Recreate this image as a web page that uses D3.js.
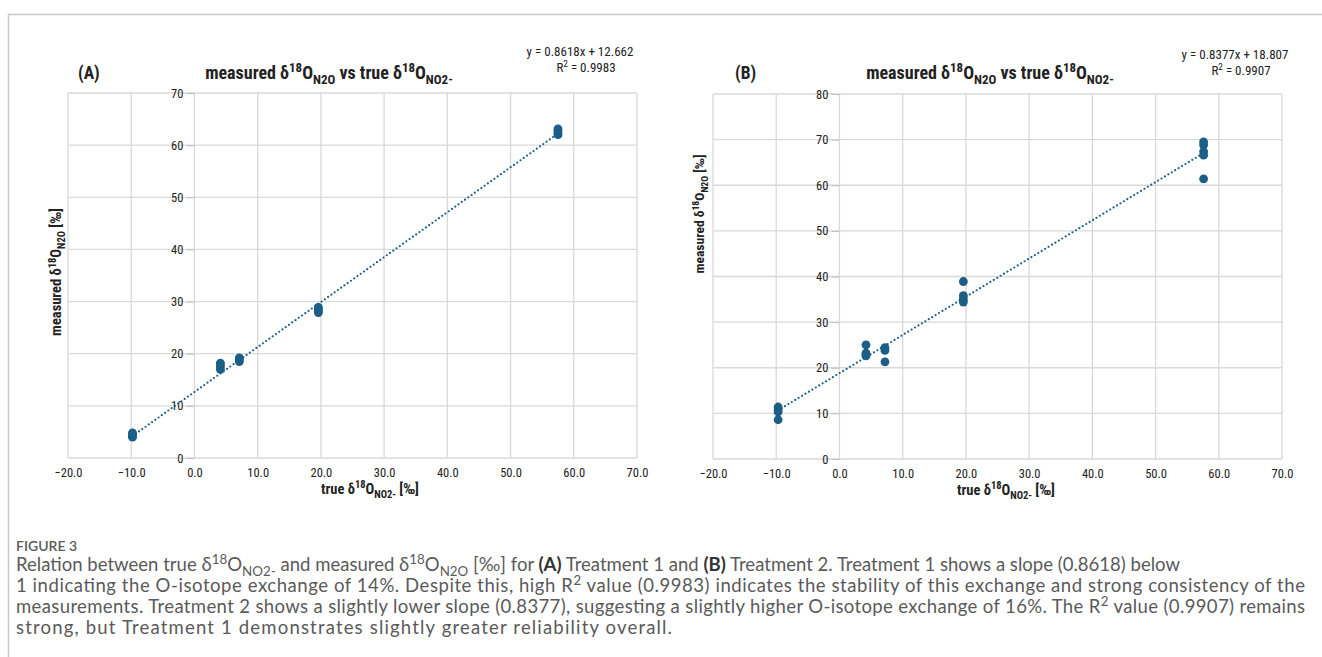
<!DOCTYPE html>
<html>
<head>
<meta charset="utf-8">
<script src="https://cdn.jsdelivr.net/npm/d3@7"></script>
<style>
body{margin:0;background:#fff}
svg{display:block}
.chart text{font-family:"Liberation Sans Narrow","Roboto Condensed",Roboto,sans-serif;fill:#222}
.cap text{font-family:Lato,"Open Sans",sans-serif;fill:#5a5a5a}
</style>
</head>
<body>
<div id="fig"></div>
<script>
'use strict'
// x tick values shared by both panels
const xTicks=[-20,-10,0,10,20,30,40,50,60,70]
const aYTicks=[0,10,20,30,40,50,60,70]
const bYTicks=[0,10,20,30,40,50,60,70,80]

// panel A, treatment 1
const aTrue=[-9.8,-9.8,-9.8,-9.8,4.1,4.1,4.1,4.1,7.1,7.1,7.1,19.6,19.6,19.6,19.6,57.5,57.5,57.5,57.5]
const aMeasured=[4.0,4.3,4.6,4.8,17.0,17.5,18.0,18.2,18.5,18.9,19.2,27.9,28.2,28.6,28.9,62.0,62.4,62.8,63.1]
const aFit={slope:0.8618,intercept:12.662,r2:'0.9983'}

// panel B, treatment 2
const bTrue=[-9.7,-9.7,-9.7,-9.7,4.2,4.2,4.2,4.2,7.2,7.2,7.2,19.6,19.6,19.6,19.6,57.6,57.6,57.6,57.6,57.6]
const bMeasured=[11.4,10.8,10.3,8.6,25.0,23.2,22.9,22.6,24.4,23.8,21.3,38.9,35.8,35.0,34.4,69.5,68.8,67.4,66.6,61.4]
const bFit={slope:0.8377,intercept:18.807,r2:'0.9907'}

const dotColor="#1b5e86"
const gridColor="#d9d9d9"
const W=1322,H=657

let svg=d3.select("#fig").append("svg").attr("width",W).attr("height",H)

// figure frame (top and left rule)
svg.append("line").attr("x1",8).attr("x2",W).attr("y1",14.5).attr("y2",14.5).attr("stroke","#c8c8c8").attr("stroke-width",1.5)
svg.append("line").attr("x1",8.5).attr("x2",8.5).attr("y1",14).attr("y2",H).attr("stroke","#c8c8c8").attr("stroke-width",1.5)

// writes text made of plain / sup / sub / bold parts
function rich(t,parts,size){let shift=0
parts.forEach(function(p){let s=p[1]=='sup'?-size*0.38:p[1]=='sub'?size*0.28:0
let ts=t.append("tspan").attr("dy",s-shift).attr("font-size",(p[1]=='sup'||p[1]=='sub')?size*0.72:size).text(p[0])
if(p[1]=='b')ts.attr("font-weight","bold").attr("fill","#333")
shift=s})
return t}

const yTitle=[["measured δ",""],["18","sup"],["O",""],["N2O","sub"],[" [‰]",""]]
const xTitle=[["true δ",""],["18","sup"],["O",""],["NO2-","sub"],[" [‰]",""]]
const mainTitle=[["measured δ",""],["18","sup"],["O",""],["N2O","sub"],["  vs true δ",""],["18","sup"],["O",""],["NO2-","sub"]]

function panel(p){let g=svg.append("g").attr("class","chart")
let x=d3.scaleLinear().domain([-20,70]).range(p.xr)
let y=d3.scaleLinear().domain([0,p.yTicks[p.yTicks.length-1]]).range(p.yr)
// grid
g.selectAll(".gx").data(xTicks).enter().append("line").attr("x1",d=>x(d)).attr("x2",d=>x(d)).attr("y1",p.yr[0]).attr("y2",p.yr[1]).attr("stroke",gridColor).attr("stroke-width",1.3)
g.selectAll(".gy").data(p.yTicks).enter().append("line").attr("x1",p.xr[0]).attr("x2",p.xr[1]).attr("y1",d=>y(d)).attr("y2",d=>y(d)).attr("stroke",gridColor).attr("stroke-width",1.3)
// y axis crossing at x=0
let ya=g.append("g").attr("transform","translate("+x(0)+",0)").call(d3.axisLeft(y).tickValues(p.yTicks).tickSize(8).tickPadding(3).tickFormat(d3.format("d")))
ya.select(".domain").remove()
ya.selectAll("line").attr("stroke","#bfbfbf")
ya.selectAll("text").attr("font-size",12.5).attr("fill","#333")
let xa=g.append("g").attr("transform","translate(0,"+p.yr[0]+")").call(d3.axisBottom(x).tickValues(xTicks).tickSize(0).tickPadding(10).tickFormat(d3.format(".1f")))
xa.select(".domain").remove()
xa.selectAll("text").attr("font-size",12.5).attr("fill","#333")
// trend line over data range
let xs=d3.extent(p.xs)
g.append("line").attr("x1",x(xs[0])).attr("y1",y(p.fit.slope*xs[0]+p.fit.intercept)).attr("x2",x(xs[1])).attr("y2",y(p.fit.slope*xs[1]+p.fit.intercept))
.attr("stroke",dotColor).attr("stroke-width",2.2).attr("stroke-linecap","round").attr("stroke-dasharray","0,4")
// points
g.selectAll("circle").data(p.xs).enter().append("circle").attr("cx",d=>x(d)).attr("cy",(d,i)=>y(p.ys[i])).attr("r",4.4).attr("fill",dotColor)
// labels
g.append("text").attr("x",p.tagX).attr("y",79).attr("font-size",17.5).attr("font-weight","bold").text(p.tag)
rich(g.append("text").attr("x",p.titleX).attr("y",79).attr("text-anchor","middle").attr("font-weight","bold").attr("font-size",18),mainTitle,18)
g.append("text").attr("x",p.eqX).attr("y",p.eqY).attr("text-anchor","middle").attr("font-size",13).text("y = "+p.fit.slope+"x + "+p.fit.intercept)
rich(g.append("text").attr("x",p.eqX+6).attr("y",p.eqY+16).attr("text-anchor","middle").attr("font-size",13),[["R",""],["2","sup"],[" = "+p.fit.r2,""]],13)
rich(g.append("text").attr("x",p.xtX).attr("y",p.yr[0]+36).attr("text-anchor","middle").attr("font-weight","bold").attr("font-size",14.5),xTitle,14.5)
rich(g.append("text").attr("transform","translate("+p.ytX+","+p.ytY+")rotate(-90)").attr("text-anchor","middle").attr("font-weight","bold").attr("font-size",p.ytS),yTitle,p.ytS)}

panel({xr:[68,637],yr:[458,93],yTicks:aYTicks,xs:aTrue,ys:aMeasured,fit:aFit,tag:"(A)",tagX:78,titleX:329,eqX:580,eqY:56,xtX:370,ytX:61,ytY:272,ytS:14.5})
panel({xr:[713,1282],yr:[459,94],yTicks:bYTicks,xs:bTrue,ys:bMeasured,fit:bFit,tag:"(B)",tagX:735,titleX:990,eqX:1235,eqY:59,xtX:1006,ytX:704,ytY:214,ytS:13.5})

// caption
let cap=svg.append("g").attr("class","cap")
cap.append("text").attr("x",16).attr("y",551).attr("font-size",14).attr("font-weight",600).attr("fill","#555").text("FIGURE 3")
const capLines=[
[["Relation between true δ",""],["18","sup"],["O",""],["NO2-","sub"],[" and measured δ",""],["18","sup"],["O",""],["N2O","sub"],[" [‰] for ",""],["(A)","b"],[" Treatment 1 and ",""],["(B)","b"],[" Treatment 2. Treatment 1 shows a slope (0.8618) below",""]],
[["1 indicating the O-isotope exchange of 14%. Despite this, high R",""],["2","sup"],[" value (0.9983) indicates the stability of this exchange and strong consistency of the",""]],
[["measurements. Treatment 2 shows a slightly lower slope (0.8377), suggesting a slightly higher O-isotope exchange of 16%. The R",""],["2","sup"],[" value (0.9907) remains",""]],
[["strong, but Treatment 1 demonstrates slightly greater reliability overall.",""]]]
// right edge of each caption line in the reference
const capWidths=[1164,1289,1289,656]
function capText(fs){cap.selectAll(".cl").remove()
capLines.forEach(function(parts,i){rich(cap.append("text").attr("class","cl").attr("x",16).attr("y",571+i*21).attr("font-size",fs),parts,fs)})}
capText(16)
// fit font size so the widest line spans the text width, then pin each line
let ratios=cap.selectAll(".cl").nodes().map((n,i)=>capWidths[i]/n.getComputedTextLength())
capText(16*d3.min(ratios))
cap.selectAll(".cl").each(function(d,i){d3.select(this).attr("textLength",capWidths[i]).attr("lengthAdjust","spacing")})
</script>
</body>
</html>
